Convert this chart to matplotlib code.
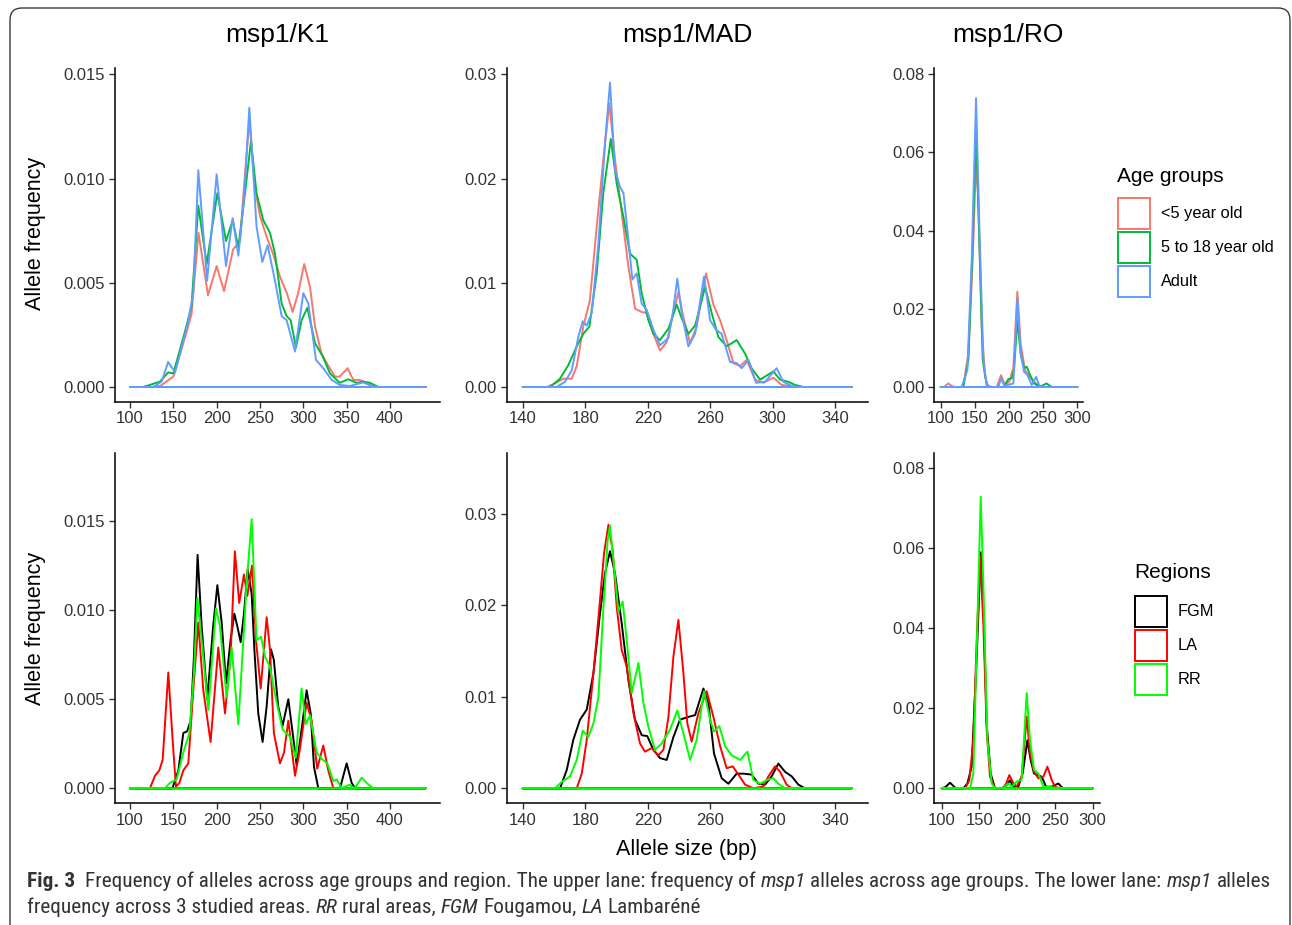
import matplotlib
matplotlib.use('Agg')
import matplotlib.pyplot as plt
from matplotlib import font_manager
from matplotlib.patches import Rectangle, FancyBboxPatch

W, H = 1292, 925
DPI = 100
plt.rcParams['font.family'] = ['Liberation Sans', 'DejaVu Sans']

# ---------------- data ----------------
age_labels = ['<5 year old', '5 to 18 year old', 'Adult']
age_colors = ['#F8766D', '#00BA38', '#619CFF']
region_labels = ['FGM', 'LA', 'RR']
region_colors = ['#000000', '#FF0000', '#00FF00']
panel_titles = ['msp1/K1', 'msp1/MAD', 'msp1/RO']

# --- top row, msp1/K1 ---
k1_lt5_x = [100, 123, 135, 142, 150, 158, 165, 171, 179, 190, 200, 208.5, 219, 227, 231, 237.7, 244, 250, 257.7,
            265, 273, 281, 287.7, 294, 301, 307.7, 313.5, 321, 329, 336.5, 342, 351, 357.7, 365, 373, 381, 441]
k1_lt5_y = [0, 0, 0.00005, 0.00026, 0.0005, 0.0016, 0.0026, 0.0035, 0.0074, 0.0044, 0.0058, 0.0046, 0.0066,
            0.0070, 0.0093, 0.0128, 0.0096, 0.0082, 0.0072, 0.0064, 0.0053, 0.0045, 0.0036, 0.0045, 0.0059,
            0.0048, 0.0029, 0.0016, 0.0010, 0.0005, 0.0005, 0.0009, 0.00034, 0.00034, 0.0002, 0, 0]
k1_518_x = [100, 115, 123, 134.6, 144, 150, 157.7, 165, 171, 178.8, 188.5, 200.8, 210.8, 218.5, 225, 232.7, 239.6,
            246, 253.8, 261.5, 267.3, 275, 280.8, 285.4, 291.5, 298, 304.6, 313.5, 322, 330.8, 342, 351.9, 361.5,
            369, 377, 386.5, 441]
k1_518_y = [0, 0, 0.0001, 0.00026, 0.0007, 0.00065, 0.0018, 0.0029, 0.0039, 0.0087, 0.0059, 0.0093, 0.0070,
            0.0080, 0.0067, 0.0093, 0.0118, 0.0093, 0.0080, 0.0074, 0.0064, 0.0040, 0.0034, 0.0032, 0.0019,
            0.0032, 0.0038, 0.0021, 0.0015, 0.00065, 0.0002, 0.00037, 0.0002, 0.00026, 0.0002, 0, 0]
k1_adu_x = [100, 127, 136.5, 144, 152, 159.6, 167, 173, 178.8, 189, 200, 210.8, 218.5, 225, 231.5, 237.7, 246,
            252.7, 258.8, 267.3, 275, 280.8, 290.4, 300, 305.8, 314.6, 323, 332.7, 342, 353.8, 369, 378.8, 384.6, 441]
k1_adu_y = [0, 0, 0.00026, 0.0012, 0.0007, 0.0019, 0.0031, 0.0045, 0.0104, 0.0051, 0.0102, 0.0058, 0.0081,
            0.0063, 0.0090, 0.0134, 0.0077, 0.0060, 0.0068, 0.0051, 0.0034, 0.0032, 0.0017, 0.0045, 0.0040,
            0.0013, 0.0009, 0.00034, 0.0001, 0.00005, 0.00022, 0.00005, 0, 0]

# --- top row, msp1/MAD ---
mad_lt5_x = [140, 155.4, 160.7, 166, 171.4, 174.6, 178.8, 183, 187.4, 191.6, 195.5, 199.1, 203.4, 207.7, 212,
             216.2, 219.4, 223.7, 227.9, 232.2, 236.5, 239.7, 242.9, 247.2, 251.4, 257.4, 262.1, 266.4, 270.6,
             274.9, 279.2, 283.4, 288.8, 294.1, 300.5, 305.8, 311.2, 315.5, 350.7]
mad_lt5_y = [0, 0, 0.00035, 0.0008, 0.0008, 0.002, 0.0058, 0.0083, 0.0154, 0.0218, 0.0272, 0.0218, 0.0167,
             0.0115, 0.0075, 0.0072, 0.0071, 0.0051, 0.0035, 0.0043, 0.0071, 0.0091, 0.0067, 0.0042, 0.0058,
             0.0109, 0.0079, 0.0064, 0.0045, 0.0023, 0.0020, 0.0026, 0.0007, 0.0004, 0.0009, 0.0002, 0.0001, 0, 0]
mad_518_x = [140, 157.5, 163.9, 169.2, 174.6, 178.8, 182.7, 187.4, 191.6, 196.4, 200.2, 204.5, 208.7, 213, 216.2,
             220.5, 223.7, 227.9, 233.3, 238.6, 241.8, 246.1, 250.4, 256.8, 261, 265.3, 270.6, 277, 282.4, 286.6,
             292, 297.3, 300.5, 304.8, 310.1, 314.4, 319.7, 350.7]
mad_518_y = [0, 0, 0.0008, 0.0021, 0.0039, 0.0051, 0.0058, 0.0109, 0.0186, 0.0238, 0.0195, 0.0163, 0.0128,
             0.0122, 0.0090, 0.0064, 0.0051, 0.0045, 0.0056, 0.0079, 0.0066, 0.0051, 0.0059, 0.0096, 0.0071,
             0.0048, 0.0039, 0.0045, 0.0032, 0.0018, 0.0007, 0.0012, 0.0015, 0.0007, 0.0005, 0.0002, 0, 0]
mad_adu_x = [140, 161.8, 167.1, 171.4, 175.6, 178.4, 181, 184.2, 188.5, 192.7, 195.9, 199.1, 202.3, 204.5, 207.7,
             210.2, 213, 216.2, 219.4, 223.7, 227.9, 233.3, 236.5, 239, 241.8, 246.1, 250.4, 256.1, 260, 263.8,
             267.4, 272.8, 277, 280.2, 284.5, 289.4, 295.2, 302.6, 306.9, 312.3, 315.5, 350.7]
mad_adu_y = [0, 0, 0.0005, 0.0016, 0.0048, 0.0063, 0.0059, 0.0071, 0.0138, 0.0234, 0.0292, 0.0208, 0.0192,
             0.0186, 0.0141, 0.0103, 0.0109, 0.0080, 0.0074, 0.0055, 0.0040, 0.0047, 0.0075, 0.0104, 0.0071,
             0.0039, 0.0051, 0.0106, 0.0064, 0.0055, 0.0051, 0.0024, 0.0023, 0.0018, 0.0026, 0.0004, 0.0005,
             0.0018, 0.0005, 0.0001, 0, 0]

# --- top row, msp1/RO ---
ro_lt5_x = [100, 105, 111, 117, 121, 133, 140.5, 146.8, 151.7, 155, 160, 164.9, 169.8, 182, 188.3, 194, 200.5,
            206.3, 212.2, 217, 223.4, 228.3, 234.6, 239.5, 245.4, 300]
ro_lt5_y = [0, 0, 0.0009, 0.0002, 0, 0, 0.0086, 0.0325, 0.058, 0.048, 0.0154, 0.0026, 0, 0, 0.003, 0.0005,
            0.0014, 0.005, 0.0244, 0.011, 0.0043, 0.003, 0.0018, 0.0009, 0, 0]
ro_518_x = [100, 133, 140.5, 146.8, 151.7, 156.6, 161.5, 167.3, 172, 191.7, 199, 204, 207.3, 212.2, 217, 222,
            225.9, 230.7, 236.6, 245.4, 255, 262.4, 300]
ro_518_y = [0, 0, 0.0069, 0.0368, 0.0666, 0.0368, 0.0069, 0.0005, 0, 0, 0.002, 0.0022, 0.0044, 0.0171, 0.0086,
            0.0048, 0.0052, 0.0031, 0.0009, 0.0001, 0.0009, 0, 0]
ro_adu_x = [100, 130.7, 139, 145.4, 151.7, 156.6, 162.4, 167.3, 174.6, 184.4, 188.3, 193.2, 206.3, 212.2, 217,
            222, 226.8, 233.2, 239.5, 244.4, 250.2, 300]
ro_adu_y = [0, 0, 0.0043, 0.0325, 0.0739, 0.041, 0.0069, 0.0005, 0, 0, 0.0022, 0.0003, 0.0009, 0.0227, 0.0086,
            0.0039, 0.0031, 0.0005, 0.0026, 0.0003, 0, 0]

# --- bottom row, msp1/K1 ---
k1_fgm_x = [100, 149, 155.8, 161.5, 166, 170, 173.8, 178, 182.7, 189.2, 196, 200.8, 205.8, 210.8, 216, 220.4,
            223.8, 227.7, 231.5, 235.8, 240.4, 243.5, 248, 253, 257.7, 262.7, 266, 271, 276, 282.7, 287.7, 292.3,
            298, 303.8, 308.5, 312.3, 317.3, 342.3, 350, 355.8, 359.6, 441]
k1_fgm_y = [0, 0, 0.001, 0.0031, 0.0032, 0.0038, 0.0074, 0.0131, 0.0091, 0.0050, 0.0091, 0.0114, 0.0093,
            0.0059, 0.0083, 0.0098, 0.0091, 0.0082, 0.0098, 0.0123, 0.0109, 0.0078, 0.0042, 0.0026, 0.0046,
            0.0078, 0.0072, 0.0046, 0.0035, 0.0050, 0.0031, 0.0013, 0.0033, 0.0055, 0.0042, 0.0012, 0, 0,
            0.0014, 0.0003, 0, 0]
k1_la_x = [100, 123, 128.8, 133.8, 137.7, 144.2, 149.2, 153, 157, 161.5, 167.3, 173, 178.8, 184.6, 193, 201.9,
           209.6, 216, 221, 226, 231.5, 235.4, 240.8, 245.4, 250.8, 257.7, 261.5, 266, 273, 277.7, 282.7, 290.4,
           295.4, 303.8, 309.6, 316, 323, 328.8, 334.6, 441]
k1_la_y = [0, 0, 0.0007, 0.001, 0.0016, 0.0065, 0.0027, 0.0001, 0.0003, 0.001, 0.0014, 0.0055, 0.0093, 0.0055,
           0.0026, 0.0079, 0.0042, 0.0074, 0.0133, 0.0104, 0.0120, 0.0108, 0.0125, 0.0083, 0.0056, 0.0096,
           0.0078, 0.0031, 0.0014, 0.0020, 0.0038, 0.0007, 0.0020, 0.0048, 0.0038, 0.0011, 0.0024, 0.0010, 0, 0]
k1_rr_x = [100, 140.4, 146, 153.8, 161.5, 168.5, 173.8, 177.7, 182.7, 190.4, 199.2, 203.8, 211.5, 217.3, 225,
           230.8, 234.6, 240.4, 246, 251.2, 255.8, 261.5, 268, 276, 284.6, 291.2, 298, 303, 307.7, 315.4, 322.3,
           327.7, 334.6, 338.5, 344.2, 353, 359.6, 367.3, 373, 380.8, 441]
k1_rr_y = [0, 0, 0.0003, 0.0005, 0.002, 0.0031, 0.0065, 0.0107, 0.0083, 0.0044, 0.0101, 0.0091, 0.0051,
           0.0079, 0.0036, 0.0083, 0.0115, 0.0151, 0.0083, 0.0085, 0.0074, 0.0068, 0.0051, 0.0033, 0.0029,
           0.0017, 0.0056, 0.0036, 0.0041, 0.0020, 0.0016, 0.0014, 0.0004, 0.0005, 0, 0.0002, 0, 0.0006,
           0.0003, 0, 0]

# --- bottom row, msp1/MAD ---
mad_fgm_x = [140, 163.9, 168.2, 172.4, 176.7, 181, 185.3, 189.5, 192.7, 195.9, 199.1, 203.4, 207.7, 211.9,
             216.2, 219.8, 223.7, 227.9, 232.2, 236.5, 240.7, 246.1, 250.4, 255.7, 258.9, 262.5, 267.4, 271.7,
             277, 281.3, 286.6, 290.9, 295.2, 299.4, 303.7, 308, 312.3, 316.5, 320.8, 350.7]
mad_fgm_y = [0, 0, 0.002, 0.0053, 0.0075, 0.0086, 0.0126, 0.0191, 0.0235, 0.0259, 0.0235, 0.018, 0.0118,
             0.0075, 0.0058, 0.0057, 0.0042, 0.0033, 0.0031, 0.0056, 0.0075, 0.0078, 0.008, 0.0109, 0.0093,
             0.0038, 0.0011, 0.0005, 0.0016, 0.0016, 0.0015, 0.0005, 0.0004, 0.0013, 0.0027, 0.0018, 0.0013,
             0.0004, 0, 0]
mad_la_x = [140, 174.6, 177.8, 181, 185.3, 189.1, 192.1, 194.9, 197.6, 200.2, 203.4, 206.6, 210.9, 215.1, 218.3,
            222.6, 226.9, 230.1, 233.3, 236.5, 239.7, 242.9, 245.4, 248.2, 252.5, 257.8, 262.1, 266.4, 270.6,
            274.5, 278.1, 282.4, 287.7, 294.1, 297.3, 301.6, 304.8, 309, 312.3, 350.7]
mad_la_y = [0, 0, 0.0016, 0.0053, 0.0126, 0.0198, 0.0257, 0.0288, 0.026, 0.0198, 0.0151, 0.0133, 0.0082,
            0.0049, 0.004, 0.0044, 0.0036, 0.0042, 0.0078, 0.0144, 0.0184, 0.0126, 0.0071, 0.0051, 0.0082,
            0.0106, 0.0078, 0.0046, 0.0022, 0.0024, 0.0015, 0.0004, 0, 0.0002, 0.0013, 0.0024, 0.0018, 0.0004, 0, 0]
mad_rr_x = [140, 160.7, 165, 170.3, 174.6, 178.4, 182, 185.3, 188.5, 191.7, 194.4, 195.9, 198.5, 201.3, 204,
            206.6, 209.8, 214.1, 217.3, 220.5, 224.7, 229, 234.3, 239, 242.9, 247.2, 251.4, 256.1, 260, 262.5,
            265.9, 269.6, 273.8, 279.2, 283.9, 287.7, 292, 296.2, 300.5, 303.7, 308, 350.7]
mad_rr_y = [0, 0, 0.0007, 0.0013, 0.0031, 0.0063, 0.0056, 0.0071, 0.01, 0.0198, 0.0271, 0.0287, 0.0242, 0.0193,
            0.0204, 0.0162, 0.0104, 0.0137, 0.0093, 0.0067, 0.0042, 0.0049, 0.0064, 0.0085, 0.006, 0.0031,
            0.0053, 0.0106, 0.0075, 0.0062, 0.0068, 0.0046, 0.0036, 0.0031, 0.004, 0.0009, 0.0005, 0.0009,
            0.0011, 0.0005, 0, 0]

# --- bottom row, msp1/RO ---
ro_fgm_x = [100, 105, 111, 117, 119, 128.7, 134, 139.7, 146.4, 151.7, 156, 159.6, 164.9, 170.6, 180, 186, 190.5,
            194.9, 201.5, 207.3, 213.5, 217.9, 222.3, 226.7, 232.5, 238.2, 245.7, 250, 254.5, 258, 261.1, 300]
ro_fgm_y = [0, 0.0003, 0.0014, 0.0003, 0, 0, 0.0012, 0.0054, 0.033, 0.059, 0.041, 0.016, 0.0037, 0, 0, 0.0008,
            0.002, 0.0004, 0.0004, 0.0037, 0.012, 0.007, 0.0037, 0.0033, 0.0029, 0.0004, 0.0004, 0.0008, 0.0012,
            0.0005, 0, 0]
ro_la_x = [100, 130.9, 136.6, 141.9, 146.4, 150.8, 155.2, 159.6, 164, 170.6, 180.8, 185, 189.6, 194.9, 199.3,
           205.9, 212.6, 217, 222.3, 228, 234.7, 240, 245.7, 250.1, 256.7, 300]
ro_la_y = [0, 0, 0.002, 0.012, 0.037, 0.058, 0.041, 0.0146, 0.0029, 0, 0, 0.001, 0.0033, 0.0013, 0.0004, 0.0029,
           0.0179, 0.0088, 0.0042, 0.0025, 0.0029, 0.0054, 0.0021, 0.0004, 0, 0]
ro_rr_x = [100, 137.5, 141.9, 147.2, 151.7, 156, 160.5, 166.2, 170.6, 181.7, 188.3, 192.7, 199.3, 205.9, 212.6,
           217, 222.3, 228, 234.7, 243.5, 252.3, 300]
ro_rr_y = [0, 0, 0.0037, 0.041, 0.0729, 0.0454, 0.012, 0.0012, 0, 0, 0.0012, 0.0004, 0.0017, 0.0021, 0.0238,
           0.012, 0.0046, 0.0037, 0.0004, 0.0004, 0, 0]

# ticks
k1_xticks = [100, 150, 200, 250, 300, 350, 400]
mad_xticks = [140, 180, 220, 260, 300, 340]
ro_xticks = [100, 150, 200, 250, 300]
k1_yticks = [0.000, 0.005, 0.010, 0.015]
k1_ylabels = ['0.000', '0.005', '0.010', '0.015']
mad_yticks = [0.00, 0.01, 0.02, 0.03]
mad_ylabels = ['0.00', '0.01', '0.02', '0.03']
ro_yticks = [0.00, 0.02, 0.04, 0.06, 0.08]
ro_ylabels = ['0.00', '0.02', '0.04', '0.06', '0.08']

# ---------------- figure ----------------
fig = plt.figure(figsize=(W / DPI, H / DPI), dpi=DPI)
fig.patch.set_facecolor('white')
ov = fig.add_axes([0, 0, 1, 1])
ov.set_xlim(0, W)
ov.set_ylim(H, 0)
ov.axis('off')

TXT = '#333333'


def panel(box, xlim, ylim, xticks, yticks, ylabels, series, colors):
    l, t, r, b = box
    ax = fig.add_axes([l / W, 1 - b / H, (r - l) / W, (b - t) / H])
    ax.set_facecolor('none')
    for (xs, ys), c in zip(series, colors):
        ax.fill(xs, ys, facecolor='none', edgecolor=c, lw=1.4, joinstyle='round')
    ax.set_xlim(*xlim)
    ax.set_ylim(*ylim)
    ax.set_xticks(xticks)
    ax.set_xticklabels([str(v) for v in xticks])
    ax.set_yticks(yticks)
    ax.set_yticklabels(ylabels)
    for s in ['top', 'right']:
        ax.spines[s].set_visible(False)
    for s in ['left', 'bottom']:
        ax.spines[s].set_linewidth(1.1)
        ax.spines[s].set_color('black')
    ax.tick_params(direction='out', length=4, width=1.0, color='#333333', labelsize=12,
                   labelcolor=TXT, pad=3)
    return ax


top_cols = age_colors
bot_cols = region_colors

panel((115, 68, 440, 401.7), (82.7, 457.7), (-0.000705, 0.015302), k1_xticks, k1_yticks, k1_ylabels,
      [(k1_lt5_x, k1_lt5_y), (k1_518_x, k1_518_y), (k1_adu_x, k1_adu_y)], top_cols)
panel((506.7, 68, 868, 401.7), (129.75, 361.1), (-0.00141, 0.030606), mad_xticks, mad_yticks, mad_ylabels,
      [(mad_lt5_x, mad_lt5_y), (mad_518_x, mad_518_y), (mad_adu_x, mad_adu_y)], top_cols)
panel((934, 68, 1082.7, 401.7), (90.2, 307.8), (-0.00376, 0.08161), ro_xticks, ro_yticks, ro_ylabels,
      [(ro_lt5_x, ro_lt5_y), (ro_518_x, ro_518_y), (ro_adu_x, ro_adu_y)], top_cols)

panel((115, 452.7, 440, 803.3), (82.7, 457.7), (-0.000842, 0.018833), k1_xticks, k1_yticks, k1_ylabels,
      [(k1_fgm_x, k1_fgm_y), (k1_la_x, k1_la_y), (k1_rr_x, k1_rr_y)], bot_cols)
panel((506.7, 452.7, 868, 803.3), (129.75, 361.1), (-0.001639, 0.036665), mad_xticks, mad_yticks, mad_ylabels,
      [(mad_fgm_x, mad_fgm_y), (mad_la_x, mad_la_y), (mad_rr_x, mad_rr_y)], bot_cols)
panel((934, 452.7, 1100, 803.3), (89.8, 309.7), (-0.00375, 0.0839), ro_xticks, ro_yticks, ro_ylabels,
      [(ro_fgm_x, ro_fgm_y), (ro_la_x, ro_la_y), (ro_rr_x, ro_rr_y)], bot_cols)

# titles
for cx, title in zip([277.5, 687, 1008], panel_titles):
    ov.text(cx, 35, title, fontsize=19, ha='center', va='center', color='black')

# axis titles
ov.text(36, 233, 'Allele frequency', fontsize=15.5, rotation=90, ha='center', va='center')
ov.text(36, 628, 'Allele frequency', fontsize=15.5, rotation=90, ha='center', va='center')
ov.text(687, 849, 'Allele size (bp)', fontsize=15.5, ha='center', va='center')

# legends
def legend(x0, ty, title, labels, colors, ys, bw, bh, lx):
    ov.text(x0, ty, title, fontsize=15, ha='left', va='center')
    for lab, c, y in zip(labels, colors, ys):
        ov.add_patch(Rectangle((x0 + 0.7, y), bw, bh, facecolor='white', edgecolor=c, lw=1.4))
        ov.text(lx, y + bh / 2, lab, fontsize=11.8, ha='left', va='center')


legend(1117, 177, 'Age groups', age_labels, age_colors, [198, 232, 266], 32, 31, 1161)
legend(1134, 573, 'Regions', region_labels, region_colors, [595.5, 629.5, 663.5], 32, 31, 1178)

# frame
ov.add_patch(FancyBboxPatch((10, 8), 1280, 960, boxstyle='round,pad=0,rounding_size=12',
                            facecolor='none', edgecolor='#3a3a3a', lw=1.0, clip_on=False))

# caption
names = {f.name for f in font_manager.fontManager.ttflist}
cap_family = None
for cand in ['Liberation Sans Narrow', 'DejaVu Sans Condensed', 'Roboto Condensed', 'Open Sans Condensed']:
    if cand in names:
        cap_family = cand
        break
cap_kw = {'family': cap_family} if cap_family else {'family': 'DejaVu Sans', 'stretch': 'condensed'}

line1 = [('Fig. 3', 'bold', 'normal'),
         ('  Frequency of alleles across age groups and region. The upper lane: frequency of ', 'normal', 'normal'),
         ('msp1', 'normal', 'italic'),
         (' alleles across age groups. The lower lane: ', 'normal', 'normal'),
         ('msp1', 'normal', 'italic'),
         (' alleles', 'normal', 'normal')]
line2 = [('frequency across 3 studied areas. ', 'normal', 'normal'),
         ('RR', 'normal', 'italic'),
         (' rural areas, ', 'normal', 'normal'),
         ('FGM', 'normal', 'italic'),
         (' Fougamou, ', 'normal', 'normal'),
         ('LA', 'normal', 'italic'),
         (' Lambaréné', 'normal', 'normal')]

renderer = fig.canvas.get_renderer()


def draw_runs(runs, x, y, size, color, draw=True):
    t0 = ov.text(0, 0, 'a a', fontsize=size, **cap_kw)
    t1 = ov.text(0, 0, 'aa', fontsize=size, **cap_kw)
    sp = t0.get_window_extent(renderer).width - t1.get_window_extent(renderer).width
    t0.remove(); t1.remove()
    for s, wgt, sty in runs:
        lead = len(s) - len(s.lstrip(' '))
        trail = len(s) - len(s.rstrip(' '))
        core = s.strip(' ')
        x += lead * sp
        t = ov.text(x, y, core, fontsize=size, fontweight=wgt, fontstyle=sty, color=color,
                    ha='left', va='baseline', **cap_kw)
        x += t.get_window_extent(renderer).width
        if not draw:
            t.remove()
        x += trail * sp
    return x


base = 12
wid = draw_runs(line1, 27, 887, base, '#333333', draw=False) - 27
size = base * (1241 / wid)
draw_runs(line1, 27, 887, size, '#333333')
draw_runs(line2, 27, 913, size, '#333333')

fig.savefig('out.png', dpi=DPI, facecolor='white')
